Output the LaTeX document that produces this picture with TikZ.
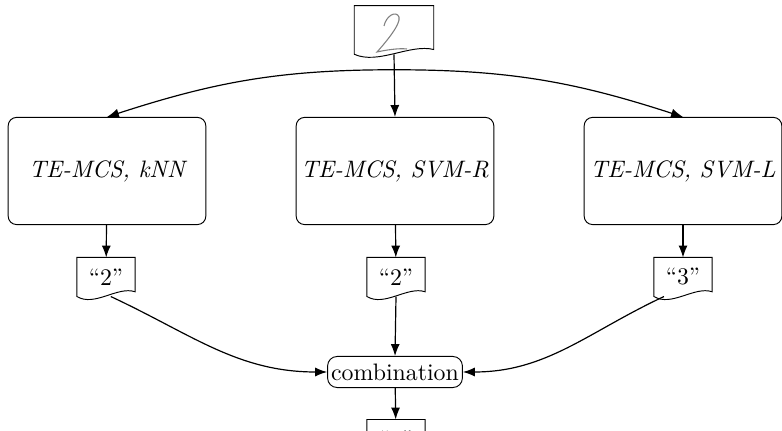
\documentclass[tikz,border=0pt]{standalone}
\usepackage{tikz}
\usetikzlibrary{calc,arrows.meta}

\tikzset{
  clsbox/.style={draw, rounded corners=3.5pt, minimum width=83pt, minimum height=45pt, inner sep=2pt, font=\itshape},
  docnode/.style={inner sep=0pt, minimum width=24pt, minimum height=16pt},
  combbox/.style={draw, rounded corners=4pt, inner xsep=1.5pt, inner ysep=3pt},
  conn/.style={-{Latex[length=5pt,width=3.8pt]}, line width=0.5pt},
  digit/.style={gray, line width=0.45pt}
}

% outline of a document shape around a (frameless) node
\newcommand{\docframe}[1]{%
  \draw (#1.south west) -- (#1.north west) -- (#1.north east) -- ([yshift=2pt]#1.south east)
    .. controls ($(#1.south)!0.4!(#1.south east)+(0,4.5pt)$) and ($(#1.south)!0.4!(#1.south west)+(0,-4.5pt)$) .. (#1.south west) -- cycle;}

\begin{document}
\begin{tikzpicture}[x=0.42pt, y=-0.42pt]
        \clip (0,0) rectangle (782,431);

        % input digit
        \node (input) [docnode, minimum width=33pt, minimum height=20pt] at (394,30) {};
        \docframe{input}
        \begin{scope}[shift={(input.center)}]
          \draw[digit] (-10,-4) .. controls (-8,-14) and (2,-20) .. (5,-13)
                .. controls (7,-6) and (-8,12) .. (-17,22)
                .. controls (-8,20) and (5,18) .. (13,19);
        \end{scope}

        % classifiers
        \node (knn)  [clsbox] at (107,171) {TE-MCS, kNN};
        \node (svmr) [clsbox] at (395,171) {TE-MCS, SVM-R};
        \node (svml) [clsbox] at (683,171) {TE-MCS, SVM-L};

        % single answers
        \node (outknn)  [docnode] at (106,277) {``2''};
        \node (outsvmr) [docnode] at (396,277) {``2''};
        \node (outsvml) [docnode] at (683,277) {``3''};
        \docframe{outknn}
        \docframe{outsvmr}
        \docframe{outsvml}

        \node (comb) [combbox] at (395,372) {combination};
        \node (final) [docnode] at (396,439) {``2''};
        \docframe{final}

        \coordinate (fork) at ($(input.south)+(0,-6.5pt)$);
        \draw[conn] (input.south) -- (svmr.north);
        \draw[conn] (fork) to[out=180, in=18] (knn.north);
        \draw[conn] (fork) to[out=0, in=162] (svml.north);

        \draw[conn] (knn) -- (outknn);
        \draw[conn] (svmr) -- (outsvmr);
        \draw[conn] (svml) -- (outsvml);

        \draw[conn] ([xshift=2pt]outknn.south) to[out=-25, in=180] (comb.west);
        \draw[conn] (outsvmr.south) -- (comb.north);
        \draw[conn] ([xshift=-8pt]outsvml.south) to[out=205, in=0] (comb.east);
        \draw[conn] (comb) -- (final);
\end{tikzpicture}
\end{document}
